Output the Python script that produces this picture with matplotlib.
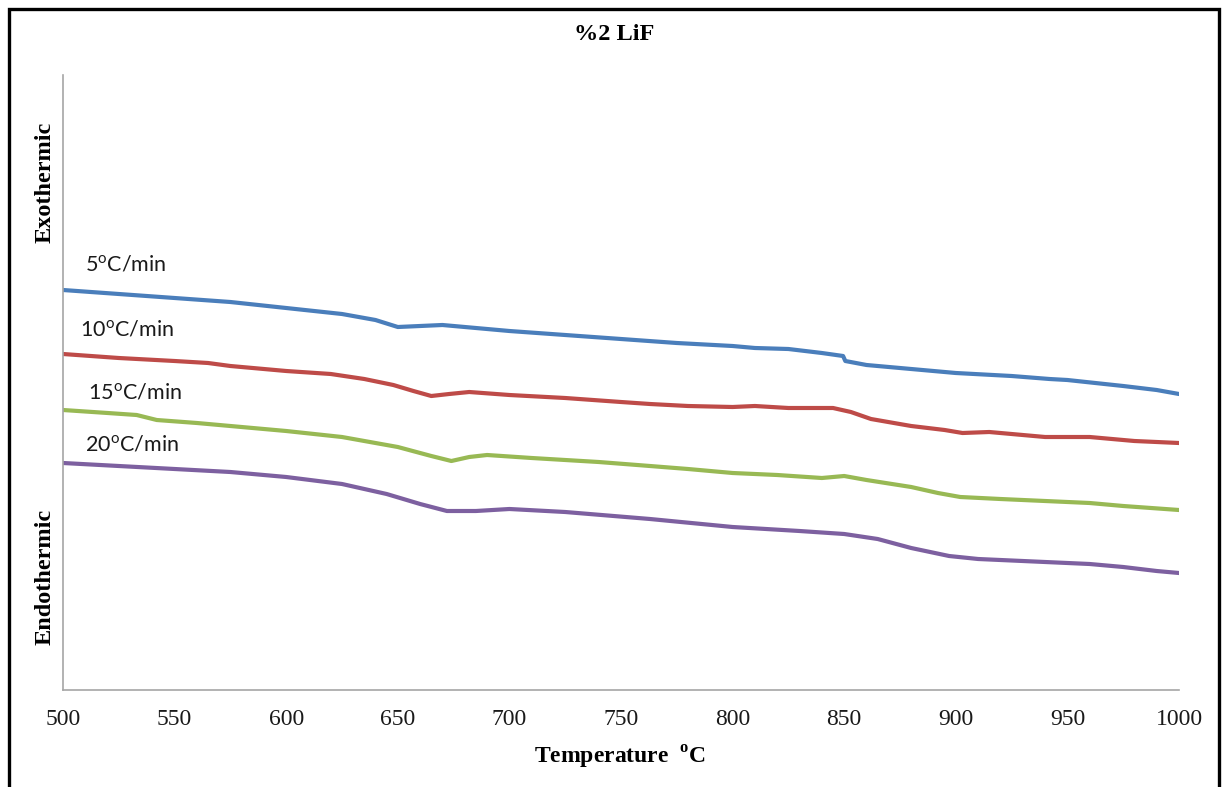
import matplotlib
matplotlib.use("Agg")
import matplotlib.pyplot as plt
from matplotlib.patches import Rectangle

plt.rcParams["mathtext.fontset"] = "custom"
plt.rcParams["mathtext.rm"] = "Lato"
plt.rcParams["mathtext.bf"] = "Liberation Serif:bold"

# DSC heat-flow traces (arbitrary units) for each heating rate
t_5 = [500, 525, 550, 575, 600, 625, 640, 650, 660, 670, 685, 700, 725, 750, 775,
       800, 810, 825, 840, 849.5, 850.5, 860, 875, 900, 925, 942, 950, 975, 990, 1000]
hf_5 = [4.00, 3.96, 3.92, 3.88, 3.82, 3.76, 3.70, 3.63, 3.64, 3.65, 3.62, 3.59, 3.55, 3.51, 3.47,
        3.44, 3.42, 3.41, 3.37, 3.34, 3.29, 3.25, 3.22, 3.17, 3.14, 3.11, 3.10, 3.04, 3.00, 2.96]

t_10 = [500, 525, 550, 565, 575, 600, 620, 635, 648, 657, 665, 673, 682, 700, 725, 750, 763,
        780, 800, 810, 825, 845, 853, 862, 880, 895, 903, 915, 930, 940, 960, 980, 1000]
hf_10 = [3.36, 3.32, 3.29, 3.27, 3.24, 3.19, 3.16, 3.11, 3.05, 2.99, 2.94, 2.96, 2.98, 2.95, 2.92,
         2.88, 2.86, 2.84, 2.83, 2.84, 2.82, 2.82, 2.78, 2.71, 2.64, 2.60, 2.57, 2.58, 2.55, 2.53,
         2.53, 2.49, 2.47]

t_15 = [500, 520, 533, 542, 560, 600, 625, 650, 665, 674, 682, 690, 710, 740, 763, 780, 800,
        820, 840, 850, 860, 880, 892, 902, 920, 940, 960, 975, 1000]
hf_15 = [2.80, 2.77, 2.75, 2.70, 2.67, 2.59, 2.53, 2.43, 2.34, 2.29, 2.33, 2.35, 2.32, 2.28, 2.24,
         2.21, 2.17, 2.15, 2.12, 2.14, 2.10, 2.03, 1.97, 1.93, 1.91, 1.89, 1.87, 1.84, 1.80]

t_20 = [500, 525, 550, 575, 600, 625, 645, 660, 672, 685, 700, 725, 763, 800, 830, 850, 865,
        880, 897, 910, 940, 960, 975, 990, 1000]
hf_20 = [2.27, 2.24, 2.21, 2.18, 2.13, 2.06, 1.96, 1.86, 1.79, 1.79, 1.81, 1.78, 1.71, 1.63, 1.59,
         1.56, 1.51, 1.42, 1.34, 1.31, 1.28, 1.26, 1.23, 1.19, 1.17]

rate_labels = [r"5$^{\mathrm{o}}$C/min", r"10$^{\mathrm{o}}$C/min",
               r"15$^{\mathrm{o}}$C/min", r"20$^{\mathrm{o}}$C/min"]
label_pos = [(510, 4.25), (507.5, 3.60), (511, 2.97), (510, 2.45)]
colors = ["#4A7EBB", "#BE4B48", "#98B954", "#7D60A0"]
x_ticks = [500, 550, 600, 650, 700, 750, 800, 850, 900, 950, 1000]

fig = plt.figure(figsize=(12.26, 7.87), dpi=100)
ax = fig.add_axes([63 / 1226, 97 / 787, 1116 / 1226, 615 / 787])

series = [(t_5, hf_5), (t_10, hf_10), (t_15, hf_15), (t_20, hf_20)]
for (t, hf), c in zip(series, colors):
    ax.plot(t, hf, color=c, lw=3.0, solid_capstyle="round", solid_joinstyle="round")

for text, (x, y) in zip(rate_labels, label_pos):
    ax.text(x, y, text, fontsize=15.5, family="Lato", color="#1a1a1a",
            ha="left", va="center")

ax.set_xlim(500, 1000)
ax.set_ylim(0, 6.15)
ax.set_xticks(x_ticks)
ax.set_xticklabels([str(v) for v in x_ticks], family="Liberation Serif", fontsize=17)
ax.set_yticks([])
ax.tick_params(axis="x", length=0, pad=14, colors="#1a1a1a")
for side in ("top", "right"):
    ax.spines[side].set_visible(False)
for side in ("left", "bottom"):
    ax.spines[side].set_color("#a6a6a6")
    ax.spines[side].set_linewidth(1.2)

fig.text(614 / 1226, 1 - 34 / 787, "%2 LiF", family="Liberation Serif",
         fontweight="bold", fontsize=17.5, ha="center", va="center")
fig.text(620 / 1226, 1 - 757 / 787, r"Temperature  $^{\mathbf{o}}$C",
         family="Liberation Serif", fontweight="bold", fontsize=17,
         ha="center", va="center")
fig.text(45 / 1226, 1 - 182 / 787, "Exothermic", family="Liberation Serif",
         fontweight="bold", fontsize=17.5, rotation=90, ha="center", va="center")
fig.text(45 / 1226, 1 - 577 / 787, "Endothermic", family="Liberation Serif",
         fontweight="bold", fontsize=17.5, rotation=90, ha="center", va="center")

# outer frame
fig.patches.append(Rectangle((9 / 1226, -0.05), 1210 / 1226, 1 - 9 / 787 + 0.05,
                             transform=fig.transFigure, fill=False,
                             edgecolor="black", lw=2.4))

fig.savefig("out.png", dpi=100)
